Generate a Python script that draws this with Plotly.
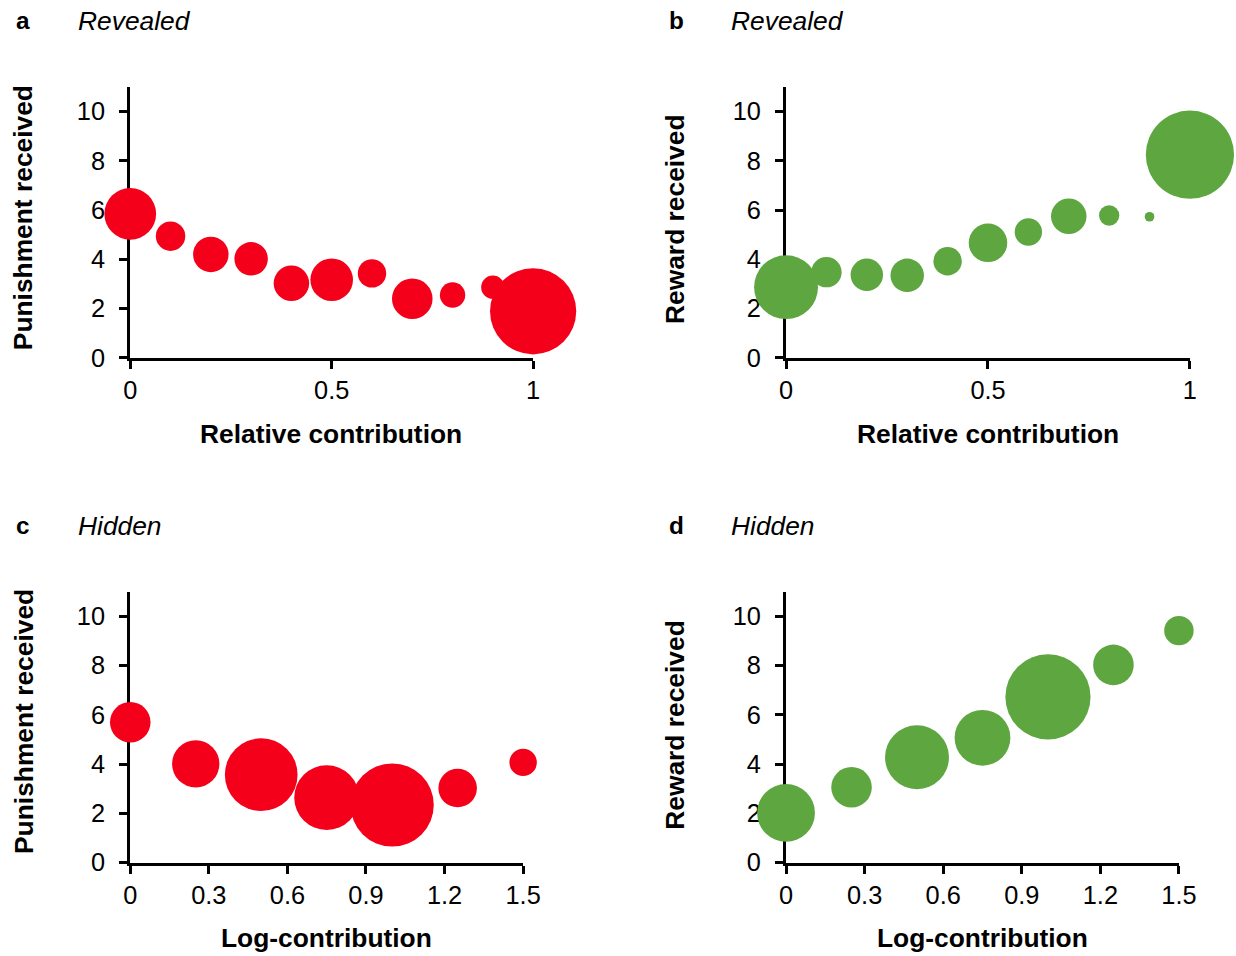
import plotly.graph_objects as go

# ---------------- data ----------------
rel_contribution = [0, 0.1, 0.2, 0.3, 0.4, 0.5, 0.6, 0.7, 0.8, 0.9, 1.0]
log_contribution = [0, 0.25, 0.5, 0.75, 1.0, 1.25, 1.5]

punish_revealed = [5.85, 4.94, 4.20, 4.02, 3.03, 3.17, 3.43, 2.40, 2.55, 2.87, 1.89]
punish_revealed_n = [51, 29, 35, 33, 35, 42, 28, 40, 25, 23, 85]

reward_revealed = [2.87, 3.48, 3.37, 3.35, 3.92, 4.67, 5.11, 5.75, 5.78, 5.73, 8.25]
reward_revealed_n = [63, 30, 32, 33, 28, 38, 27, 35, 20, 9.5, 87]

punish_hidden = [5.70, 4.01, 3.57, 2.64, 2.34, 3.03, 4.07]
punish_hidden_n = [40, 46.7, 71.7, 64, 82, 38, 27]

reward_hidden = [2.02, 3.06, 4.28, 5.07, 6.73, 8.03, 9.42]
reward_hidden_n = [57, 40, 63, 55, 84, 40, 29]

rel_ticks = [0, 0.5, 1]
rel_ticktext = ["0", "0.5", "1"]
log_ticks = [0, 0.3, 0.6, 0.9, 1.2, 1.5]
log_ticktext = ["0", "0.3", "0.6", "0.9", "1.2", "1.5"]
y_ticks = [0, 2, 4, 6, 8, 10]

# ---------------- styling ----------------
K = 1.0142            # page-to-picture scale compensation
XK, XOFF = 0.9943, 6.7  # small horizontal correction
W, H = round(1236 * K), round(956 * K)
RED = "#F5001A"
GREEN = "#5DA640"
FONT = "Liberation Sans, Arial, sans-serif"


def px(x):
    return K * (x - XOFF) / XK / W


def py(y):
    return 1 - y * K / H


def s(v):
    return v * K


fig = go.Figure()

panels = [
    ("x", "y", rel_contribution, punish_revealed, punish_revealed_n, RED),
    ("x2", "y2", rel_contribution, reward_revealed, reward_revealed_n, GREEN),
    ("x3", "y3", log_contribution, punish_hidden, punish_hidden_n, RED),
    ("x4", "y4", log_contribution, reward_hidden, reward_hidden_n, GREEN),
]
for xa, ya, xs, ys, ns, col in panels:
    fig.add_trace(go.Scatter(
        x=xs, y=ys, mode="markers", xaxis=xa, yaxis=ya,
        marker=dict(size=[s(n) for n in ns], sizemode="diameter", color=col,
                    opacity=1, line=dict(width=0)),
        cliponaxis=False, showlegend=False, hoverinfo="x+y",
    ))

axis_common = dict(
    showline=True, linecolor="black", linewidth=s(3),
    ticks="outside", ticklen=s(8), tickwidth=s(3), tickcolor="black",
    showgrid=False, zeroline=False, layer="below traces",
    tickfont=dict(family=FONT, size=s(25), color="black"),
    fixedrange=True,
)

top_y = [py(358), py(87)]
bot_y = [py(863), py(592)]
XSO = 0
YSO = round(s(9))

layout = dict(
    width=W, height=H,
    margin=dict(l=0, r=0, t=0, b=0),
    paper_bgcolor="white", plot_bgcolor="white",
    font=dict(family=FONT, color="black"),
    xaxis=dict(domain=[px(130), px(533)], range=[0, 1], tickvals=rel_ticks,
               ticktext=rel_ticktext, anchor="y", ticklabelstandoff=XSO, **axis_common),
    yaxis=dict(domain=top_y, range=[0, 11], tickvals=y_ticks, anchor="x",
               ticklabelstandoff=YSO, **axis_common),
    xaxis2=dict(domain=[px(786), px(1190)], range=[0, 1], tickvals=rel_ticks,
                ticktext=rel_ticktext, anchor="y2", ticklabelstandoff=XSO, **axis_common),
    yaxis2=dict(domain=top_y, range=[0, 11], tickvals=y_ticks, anchor="x2",
                ticklabelstandoff=YSO, **axis_common),
    xaxis3=dict(domain=[px(130), px(523)], range=[0, 1.5], tickvals=log_ticks,
                ticktext=log_ticktext, anchor="y3", ticklabelstandoff=XSO, **axis_common),
    yaxis3=dict(domain=bot_y, range=[0, 11], tickvals=y_ticks, anchor="x3",
                ticklabelstandoff=YSO, **axis_common),
    xaxis4=dict(domain=[px(786), px(1179)], range=[0, 1.5], tickvals=log_ticks,
                ticktext=log_ticktext, anchor="y4", ticklabelstandoff=XSO, **axis_common),
    yaxis4=dict(domain=bot_y, range=[0, 11], tickvals=y_ticks, anchor="x4",
                ticklabelstandoff=YSO, **axis_common),
)
fig.update_layout(**layout)

title_font = dict(family=FONT, size=s(26), color="black")
ann = []
# panel letters and condition labels
for letter, cond, lx, tx, yy in [
    ("a", "Revealed", 23, 76, 21),
    ("b", "Revealed", 676, 729, 21),
    ("c", "Hidden", 23, 76, 526),
    ("d", "Hidden", 676, 729, 526),
]:
    ann.append(dict(text="<b>%s</b>" % letter, x=px(lx), y=py(yy), xref="paper", yref="paper",
                    xanchor="center", yanchor="middle", showarrow=False,
                    font=dict(family=FONT, size=s(24), color="black")))
    ann.append(dict(text="<i>%s </i>" % cond, x=px(tx), y=py(yy), xref="paper", yref="paper",
                    xanchor="left", yanchor="middle", showarrow=False,
                    font=dict(family=FONT, size=s(26), color="black")))

# axis titles
for text, x, y in [
    ("Relative contribution", 331, 434),
    ("Relative contribution", 988, 434),
    ("Log-contribution", 326, 938),
    ("Log-contribution", 983, 938),
]:
    ann.append(dict(text="<b>%s</b>" % text, x=px(x), y=py(y), xref="paper", yref="paper",
                    xanchor="center", yanchor="middle", showarrow=False, font=title_font))
for text, x, y in [
    ("Punishment received", 23, 218),
    ("Reward received", 675, 219),
    ("Punishment received", 23, 722),
    ("Reward received", 675, 725),
]:
    ann.append(dict(text="<b>%s</b>" % text, x=px(x), y=py(y), xref="paper", yref="paper",
                    xanchor="center", yanchor="middle", showarrow=False, textangle=-90,
                    font=title_font))

fig.update_layout(annotations=ann)
fig.write_html(
    "out.html",
    config={"displayModeBar": False},
    post_script="document.body.style.margin='0px';document.body.style.padding='0px';"
                "document.body.style.overflow='hidden';",
)
